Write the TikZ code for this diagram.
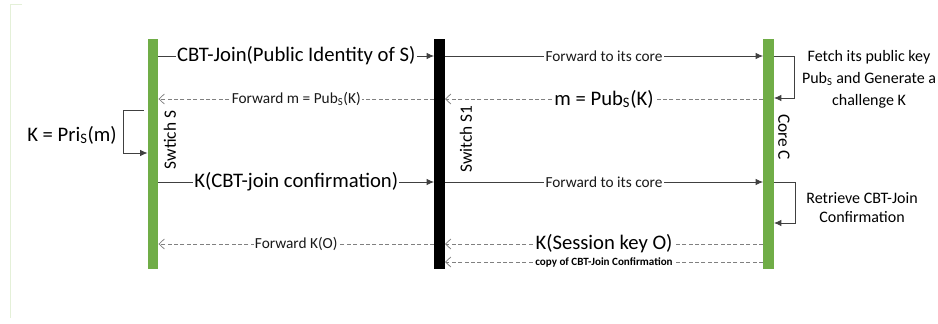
\documentclass[tikz,border=0pt]{standalone}
\usepackage{fontspec}
\setmainfont{Carlito}
\usetikzlibrary{arrows.meta}
\definecolor{bargreen}{HTML}{70AD47}
\definecolor{framegreen}{HTML}{E4F0D8}
\begin{document}
\begin{tikzpicture}[x=0.75pt,y=-0.75pt,
  lifebar/.style={draw=none, fill=#1, minimum width=7.8pt, minimum height=172.5pt,
    inner sep=0pt, anchor=north},
  msg/.style={draw=black!75, line width=0.6pt, -{Latex[length=5.5pt,width=4.8pt]}},
  reply/.style={draw=black!50, line width=0.55pt, dash pattern=on 3pt off 1.8pt,
    -{Straight Barb[length=4pt,width=7.5pt]}},
  lbl/.style={fill=white, inner sep=1pt, text=black!90, font=\fontsize{11.5}{13}\selectfont},
  biglbl/.style={fill=white, inner sep=1pt, font=\fontsize{15.5}{18}\selectfont},
  tinylbl/.style={fill=white, inner sep=0.5pt, font=\bfseries\fontsize{8.3}{9}\selectfont},
  note/.style={align=center, font=\fontsize{12}{16.5}\selectfont},
  barname/.style={font=\fontsize{13}{15}\selectfont, inner sep=0pt}
]
\useasboundingbox (0,0) rectangle (938,324);

% faint frame edge on the left
\draw[framegreen, line width=0.6pt] (22,4) -- (10,4) -- (10,318);

% lifelines
\node[lifebar=bargreen] (S)  at (153,39)   {};
\node[lifebar=black]    (S1) at (439.5,39) {};
\node[lifebar=bargreen] (C)  at (768.5,39) {};

\node[barname, rotate=90]  (Sn)  at (170,140) {Swtich S};
\node[barname, rotate=90]  (S1n) at (466,139) {Switch S1};
\node[barname, rotate=-90] (Cn)  at (784,137) {Core C};

% message rows
\coordinate (r1) at (0,56);
\coordinate (r2) at (0,99);
\coordinate (r3) at (0,182);
\coordinate (r4) at (0,244);
\coordinate (r5) at (0,262);

% join request
\draw[msg] (S.east |- r1) -- node[biglbl] {CBT-Join(Public Identity of S)} (S1.west |- r1);
\draw[msg] (S1.east |- r1) -- node[lbl] {Forward to its core} (C.west |- r1);

% challenge
\draw[reply] (C.west |- r2) -- node[biglbl] {m = Pub\textsubscript{S}(K)} (S1.east |- r2);
\draw[reply] (S1.west |- r2) -- node[lbl] {Forward m = Pub\textsubscript{S}(K)} (S.east |- r2);

% core: fetch key and build challenge
\coordinate (c1) at (794,56);
\coordinate (c2) at (794,98);
\draw[msg] (C.east |- r1) -- (c1) |- (C.east |- c2);
\node[note] (cnote1) at (869,79) {Fetch its public key\\Pub\textsubscript{S} and Generate a\\challenge K};

% switch S: decrypt challenge
\coordinate (k1) at (123,110);
\coordinate (k2) at (123,153);
\draw[msg] ([xshift=-3pt]S.west |- k1) -- (k1) -- (k2) -- (S.west |- k2);
\node[biglbl, fill=none] (kpri) at (72,135) {K = Pri\textsubscript{S}(m)};

% confirmation
\draw[msg] (S.east |- r3) -- node[biglbl] {K(CBT-join confirmation)} (S1.west |- r3);
\draw[msg] (S1.east |- r3) -- node[lbl] {Forward to its core} (C.west |- r3);

% core: retrieve confirmation
\coordinate (c3) at (795,182);
\coordinate (c4) at (795,223);
\draw[msg] (C.east |- r3) -- (c3) |- (C.east |- c4);
\node[note, font=\fontsize{12}{14.5}\selectfont] (cnote2) at (862,207.5) {Retrieve CBT-Join\\Confirmation};

% session key
\draw[reply] (C.west |- r4) -- node[biglbl] {K(Session key O)} (S1.east |- r4);
\draw[reply] (S1.west |- r4) -- node[lbl] {Forward K(O)} (S.east |- r4);
\draw[reply] (C.west |- r5) -- node[tinylbl] {copy of CBT-Join Confirmation} (S1.east |- r5);

\end{tikzpicture}
\end{document}
